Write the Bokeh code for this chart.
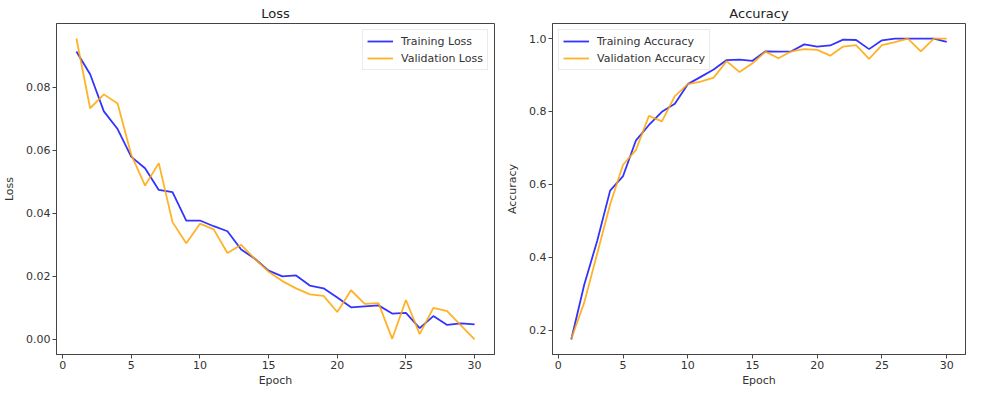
from bokeh.plotting import figure
from bokeh.layouts import row
from bokeh.models import Range1d, FixedTicker, PrintfTickFormatter, Legend, LegendItem
from bokeh.embed import file_html
from bokeh.resources import INLINE

epochs = list(range(1, 31))
train_loss = [0.0913, 0.0841, 0.0723, 0.0667, 0.0579, 0.0543, 0.0474, 0.0467, 0.0377, 0.0377,
              0.0359, 0.0343, 0.0285, 0.0256, 0.0218, 0.0200, 0.0203, 0.0171, 0.0162, 0.0133,
              0.0102, 0.0105, 0.0108, 0.0082, 0.0084, 0.0036, 0.0074, 0.0046, 0.0051, 0.0048]
val_loss = [0.0954, 0.0733, 0.0777, 0.0748, 0.0585, 0.0488, 0.0559, 0.0372, 0.0305, 0.0367,
            0.0349, 0.0274, 0.0300, 0.0255, 0.0215, 0.0185, 0.0162, 0.0143, 0.0138, 0.0087,
            0.0156, 0.0113, 0.0115, 0.0002, 0.0125, 0.0017, 0.0100, 0.0090, 0.0045, 0.0000]
train_acc = [0.175, 0.325, 0.445, 0.583, 0.623, 0.721, 0.763, 0.799, 0.821, 0.875,
             0.895, 0.915, 0.941, 0.942, 0.939, 0.965, 0.964, 0.965, 0.984, 0.978,
             0.981, 0.997, 0.996, 0.971, 0.995, 1.000, 1.000, 1.000, 1.000, 0.991]
val_acc = [0.177, 0.276, 0.410, 0.545, 0.654, 0.695, 0.788, 0.773, 0.842, 0.875,
           0.882, 0.893, 0.938, 0.908, 0.932, 0.964, 0.946, 0.965, 0.971, 0.969,
           0.953, 0.978, 0.982, 0.944, 0.982, 0.990, 1.000, 0.965, 1.000, 1.000]

x_ticks = [0, 5, 10, 15, 20, 25, 30]
loss_ticks = [0.00, 0.02, 0.04, 0.06, 0.08]
acc_ticks = [0.2, 0.4, 0.6, 0.8, 1.0]

FONT = "DejaVu Sans"
TEXT = "#333333"
AX = "#444444"
BLUE = "#0000ff"
ORANGE = "#ffa500"


def padded(lo, hi, frac=0.05):
    d = (hi - lo) * frac
    return Range1d(lo - d, hi + d)


def make(title, ylabel, ys, names, yticks, yfmt, legend_loc, width, bl, br):
    allv = ys[0] + ys[1]
    p = figure(width=width, height=389, output_backend="svg", toolbar_location=None,
               x_range=padded(min(epochs), max(epochs)), y_range=padded(min(allv), max(allv)),
               min_border_left=bl, min_border_right=br, min_border_top=14, min_border_bottom=0)
    p.title.text = title
    p.title.align = "center"
    p.title.text_font = FONT
    p.title.text_font_size = "13px"
    p.title.text_font_style = "normal"
    p.title.text_color = "#222222"
    p.title.standoff = 6
    p.xgrid.grid_line_color = None
    p.ygrid.grid_line_color = None
    p.outline_line_color = AX
    p.outline_line_width = 1
    p.outline_line_alpha = 1
    r1 = p.line(epochs, ys[0], line_color=BLUE, line_width=1.8, line_alpha=0.8)
    r2 = p.line(epochs, ys[1], line_color=ORANGE, line_width=1.8, line_alpha=0.85)
    for ax in (p.xaxis[0], p.yaxis[0]):
        ax.axis_line_color = AX
        ax.major_tick_line_color = AX
        ax.major_tick_out = 4
        ax.major_tick_in = 0
        ax.minor_tick_line_color = None
        ax.major_label_text_font = FONT
        ax.major_label_text_font_size = "11px"
        ax.major_label_text_color = TEXT
        ax.axis_label_text_font = FONT
        ax.axis_label_text_font_size = "11px"
        ax.axis_label_text_font_style = "normal"
        ax.axis_label_text_color = TEXT
        ax.major_label_standoff = 2
        ax.axis_label_standoff = 2
    p.xaxis[0].ticker = FixedTicker(ticks=x_ticks)
    p.xaxis[0].formatter = PrintfTickFormatter(format="%d")
    p.xaxis[0].axis_label = "Epoch"
    p.yaxis[0].ticker = FixedTicker(ticks=yticks)
    p.yaxis[0].formatter = PrintfTickFormatter(format=yfmt)
    p.yaxis[0].axis_label = ylabel
    p.yaxis[0].axis_label_standoff = 7
    leg = Legend(items=[LegendItem(label=names[0], renderers=[r1]),
                        LegendItem(label=names[1], renderers=[r2])],
                 location=legend_loc)
    leg.label_text_font = FONT
    leg.label_text_font_size = "11px"
    leg.label_text_color = TEXT
    leg.glyph_width = 26
    leg.glyph_height = 14
    leg.label_height = 14
    leg.label_standoff = 8
    leg.spacing = 3
    leg.padding = 4
    leg.margin = 6
    leg.border_line_color = "#d5d5d5"
    leg.background_fill_alpha = 0.8
    p.add_layout(leg, "center")
    return p


p1 = make("Loss", "Loss", [train_loss, val_loss], ["Training Loss", "Validation Loss"],
          loss_ticks, "%.2f", "top_right", 502, 52, 8)
p2 = make("Accuracy", "Accuracy", [train_acc, val_acc], ["Training Accuracy", "Validation Accuracy"],
          acc_ticks, "%.1f", "top_left", 464, 50, 1)

layout = row(p1, p2)
open("out.html", "w").write(file_html(layout, INLINE))
